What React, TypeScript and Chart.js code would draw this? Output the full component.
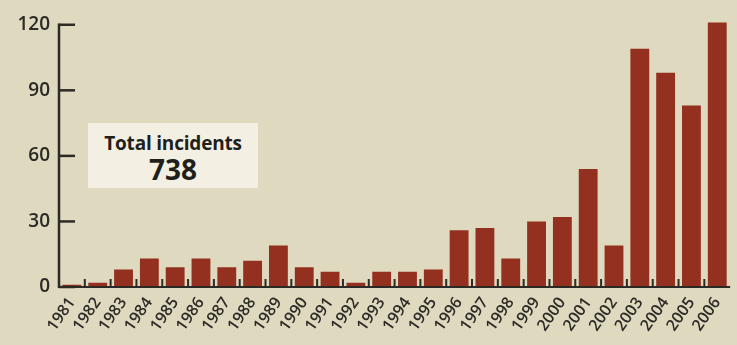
import React, { useEffect, useRef } from "react";
import { Chart, registerables } from "chart.js";

Chart.register(...registerables);

// Yearly incident counts, 1981–2006
const years = [
  "1981", "1982", "1983", "1984", "1985", "1986", "1987", "1988", "1989",
  "1990", "1991", "1992", "1993", "1994", "1995", "1996", "1997", "1998",
  "1999", "2000", "2001", "2002", "2003", "2004", "2005", "2006",
];
const incidents = [
  1, 2, 8, 13, 9, 13, 9, 12, 19, 9, 7, 2, 7, 7, 8, 26, 27, 13, 30, 32, 54, 19,
  109, 98, 83, 121,
];
const yTicks = [0, 30, 60, 90, 120];
const totalLabel = "Total incidents";
const totalValue = incidents.reduce((a, b) => a + b, 0);

const BG = "#dfd9bf";
const BAR = "#93301f";
const INK = "#2b2a25";
const FONT = "'Open Sans', 'DejaVu Sans', sans-serif";

// Axis lines and inward-pointing ticks
const axesPlugin = {
  id: "inwardAxes",
  afterDatasetsDraw(chart: any) {
    const { ctx, chartArea, scales } = chart;
    const x = scales.x;
    const y = scales.y;
    const x0 = chartArea.left;
    const y0 = y.getPixelForValue(0);
    const yTop = y.getPixelForValue(yTicks[yTicks.length - 1]);
    ctx.save();
    ctx.strokeStyle = INK;
    ctx.lineCap = "butt";

    // vertical axis
    ctx.lineWidth = 2.5;
    ctx.beginPath();
    ctx.moveTo(x0, yTop - 1.25);
    ctx.lineTo(x0, y0 + 1);
    ctx.stroke();

    // value ticks
    for (const v of yTicks) {
      const py = y.getPixelForValue(v);
      ctx.beginPath();
      ctx.moveTo(x0, py);
      ctx.lineTo(x0 + 16, py);
      ctx.stroke();
    }

    // baseline
    ctx.lineWidth = 2;
    ctx.beginPath();
    ctx.moveTo(x0, y0);
    ctx.lineTo(chartArea.right, y0);
    ctx.stroke();

    // category separators
    ctx.lineWidth = 2;
    for (let i = 1; i < years.length; i++) {
      const px = (x.getPixelForValue(i - 1) + x.getPixelForValue(i)) / 2;
      ctx.beginPath();
      ctx.moveTo(px, y0);
      ctx.lineTo(px, y0 - 8);
      ctx.stroke();
    }
    ctx.restore();
  },
};

export default function App() {
  const canvasRef = useRef<HTMLCanvasElement>(null);

  useEffect(() => {
    document.body.style.margin = "0";
    const canvas = canvasRef.current;
    if (!canvas) return;
    const chart = new Chart(canvas, {
      type: "bar",
      data: {
        labels: years,
        datasets: [
          {
            data: incidents,
            backgroundColor: BAR,
            borderWidth: 0,
            categoryPercentage: 1,
            barPercentage: 0.73,
          },
        ],
      },
      options: {
        responsive: false,
        animation: false,
        layout: { padding: { top: 0, right: 1, bottom: 0, left: 0 } },
        plugins: {
          legend: { display: false },
          tooltip: { enabled: false },
          title: { display: false },
        },
        scales: {
          x: {
            grid: { display: false, drawTicks: false },
            border: { display: false },
            ticks: {
              color: INK,
              font: { family: FONT, size: 16, weight: 600 },
              minRotation: 55,
              maxRotation: 55,
              padding: 7,
              autoSkip: false,
            },
            afterFit(scale: any) {
              scale.height = 58;
            },
          },
          y: {
            min: 0,
            max: 122,
            grid: { display: false, drawTicks: false },
            border: { display: false },
            afterBuildTicks(scale: any) {
              scale.ticks = yTicks.map((v) => ({ value: v }));
            },
            ticks: {
              color: INK,
              font: { family: FONT, size: 19, weight: 600 },
              padding: 9,
            },
            afterFit(scale: any) {
              scale.width = 59;
            },
          },
        },
      },
      plugins: [axesPlugin],
    });
    return () => chart.destroy();
  }, []);

  return (
    <div
      style={{
        position: "absolute",
        left: 0,
        top: 0,
        width: 737,
        height: 345,
        overflow: "hidden",
        background: BG,
      }}
    >
      <canvas
        ref={canvasRef}
        width={740}
        height={345}
        style={{ display: "block", width: 740, height: 345 }}
      />
      <div
        style={{
          position: "absolute",
          left: 88,
          top: 123,
          width: 170,
          height: 65,
          background: "#f3f0e3",
          color: "#1f1f1c",
          fontFamily: FONT,
          fontWeight: 700,
          textAlign: "center",
          lineHeight: 1,
        }}
      >
        <div style={{ fontSize: 19, marginTop: 11, letterSpacing: -0.2 }}>
          {totalLabel}
        </div>
        <div style={{ fontSize: 28, marginTop: 2 }}>{totalValue}</div>
      </div>
    </div>
  );
}
